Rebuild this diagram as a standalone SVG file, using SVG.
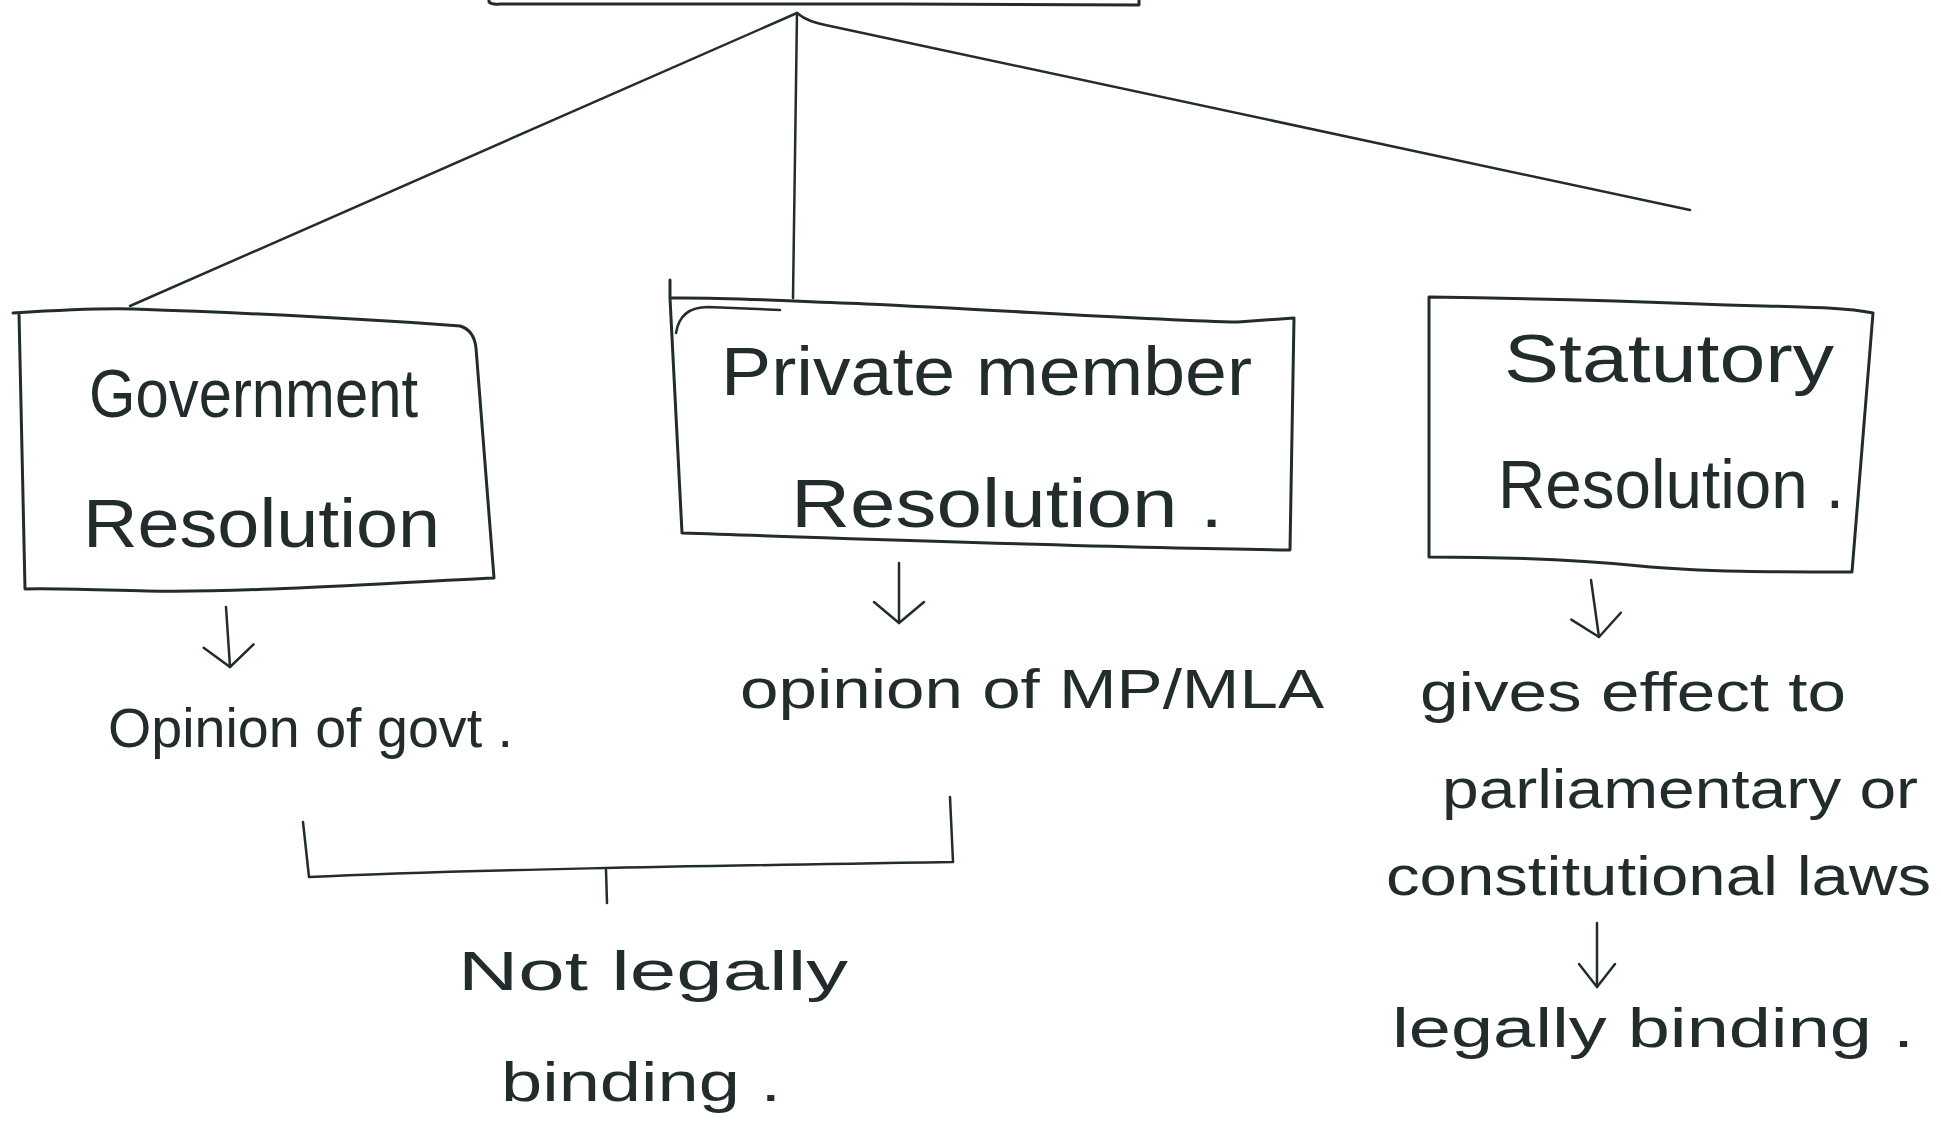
<svg xmlns="http://www.w3.org/2000/svg" width="1941" height="1146" viewBox="0 0 1941 1146">
<defs>
<style>
.ink{fill:none;stroke:#222c2c;stroke-width:3;stroke-linecap:round;stroke-linejoin:round}
.thin{fill:none;stroke:#222c2c;stroke-width:2.5;stroke-linecap:round;stroke-linejoin:round}
.t{font-family:"Liberation Sans",Arial,sans-serif;fill:#222c2c;font-weight:normal}
.big{font-size:68px}
.mid{font-size:56px}
</style>
<marker id="chev" markerUnits="userSpaceOnUse" orient="auto" overflow="visible" refX="0" refY="0" markerWidth="60" markerHeight="60">
<path d="M-21,-25 L0,0 L-21,25" fill="none" stroke="#222c2c" stroke-width="2.5" stroke-linecap="round" stroke-linejoin="round"/>
</marker>
<marker id="chev-s" markerUnits="userSpaceOnUse" orient="auto" overflow="visible" refX="0" refY="0" markerWidth="60" markerHeight="60">
<path d="M-23,-18 L0,0 L-23,18" fill="none" stroke="#222c2c" stroke-width="2.5" stroke-linecap="round" stroke-linejoin="round"/>
</marker>
</defs>
<rect width="1941" height="1146" fill="#ffffff"/>

<g id="top-node">
<path class="ink" d="M489,-20 L489,2 Q492,5 500,4 L900,4 L1139,5 L1139,-20"/>
</g>

<g id="connectors">
<path class="thin" d="M797,13 L130,306"/>
<path class="thin" d="M797,13 L793,298"/>
<path class="thin" d="M797,13 C805,20 815,23 830,26 L1690,210"/>
<path class="thin" d="M226,607 L230,667" marker-end="url(#chev)"/>
<path class="thin" d="M899,563 L899,623" marker-end="url(#chev)"/>
<path class="thin" d="M1591,580 L1599,637" marker-end="url(#chev)"/>
<path class="thin" d="M1597,923 L1597,987" marker-end="url(#chev-s)"/>
<path class="thin" d="M303,822 L309,877 C450,870 700,866 953,862 L950,797"/>
<path class="thin" d="M606,870 L607,903"/>
</g>

<g id="node-government">
<path class="ink" d="M13,313 C60,310 100,308 134,309 C250,313 380,320 460,326 Q474,330 476,348 L494,578 C400,582 250,593 147,591 C100,590 50,588 25,589 L19,313"/>
<text class="t big" x="89" y="417" textLength="329" lengthAdjust="spacingAndGlyphs">Government</text>
<text class="t big" x="83" y="547" textLength="357" lengthAdjust="spacingAndGlyphs">Resolution</text>
</g>

<g id="node-private">
<path class="ink" d="M670,280 L670,298 C720,297 760,300 866,304 C1000,310 1150,320 1238,322 L1294,318 L1290,550 C1100,548 900,540 682,533 L670,298"/>
<path class="thin" d="M676,333 Q680,307 708,307 L780,310"/>
<text class="t big" x="721" y="395" textLength="531" lengthAdjust="spacingAndGlyphs">Private member</text>
<text class="t big" x="791" y="527" textLength="432" lengthAdjust="spacingAndGlyphs">Resolution .</text>
</g>

<g id="node-statutory">
<path class="ink" d="M1429,297 C1500,298 1600,300 1700,304 C1780,307 1840,306 1873,313 L1852,572 C1780,572 1700,572 1640,566 C1560,558 1480,557 1429,557 Z"/>
<text class="t big" x="1504" y="382" textLength="330" lengthAdjust="spacingAndGlyphs">Statutory</text>
<text class="t big" x="1498" y="508" textLength="346" lengthAdjust="spacingAndGlyphs">Resolution .</text>
</g>

<g id="label-gov-opinion">
<text class="t mid" x="108" y="747" textLength="405" lengthAdjust="spacingAndGlyphs">Opinion of govt .</text>
</g>

<g id="label-private-opinion">
<text class="t mid" x="740" y="708" textLength="584" lengthAdjust="spacingAndGlyphs">opinion of MP/MLA</text>
</g>

<g id="label-statutory-effect">
<text class="t mid" x="1420" y="711" textLength="426" lengthAdjust="spacingAndGlyphs">gives effect to</text>
<text class="t mid" x="1442" y="808" textLength="476" lengthAdjust="spacingAndGlyphs">parliamentary or</text>
<text class="t mid" x="1386" y="895" textLength="545" lengthAdjust="spacingAndGlyphs">constitutional laws</text>
</g>

<g id="label-legally-binding">
<text class="t mid" x="1392" y="1047" textLength="522" lengthAdjust="spacingAndGlyphs">legally binding .</text>
</g>

<g id="label-not-binding">
<text class="t mid" x="458" y="990" textLength="390" lengthAdjust="spacingAndGlyphs">Not legally</text>
<text class="t mid" x="501" y="1101" textLength="280" lengthAdjust="spacingAndGlyphs">binding .</text>
</g>
</svg>
